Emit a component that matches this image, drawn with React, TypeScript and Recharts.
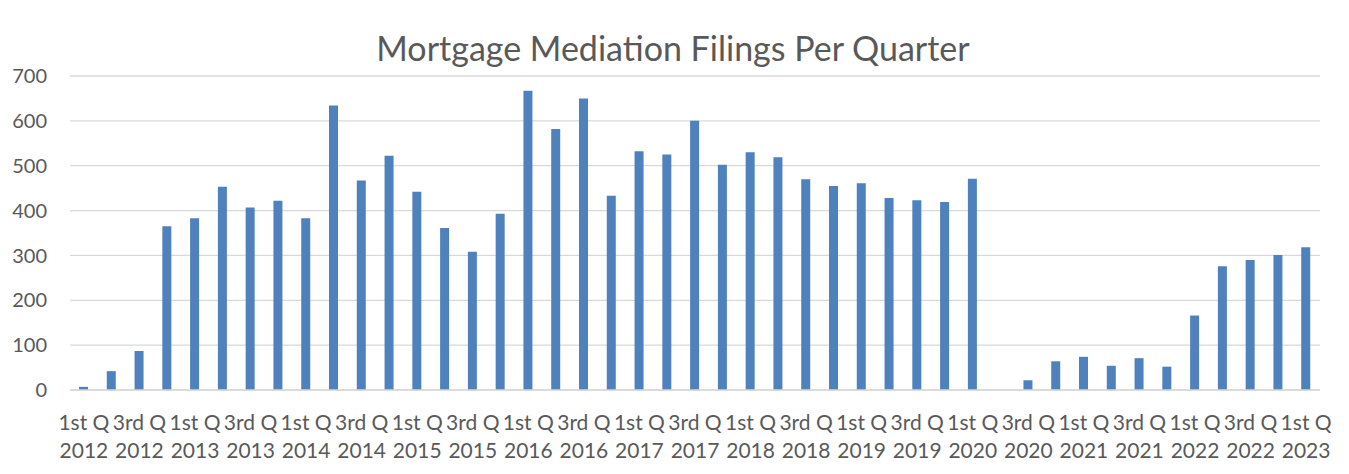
import { Bar, BarChart, CartesianGrid, XAxis, YAxis } from "recharts";

const quarters = [
  "1st Q 2012", "2nd Q 2012", "3rd Q 2012", "4th Q 2012",
  "1st Q 2013", "2nd Q 2013", "3rd Q 2013", "4th Q 2013",
  "1st Q 2014", "2nd Q 2014", "3rd Q 2014", "4th Q 2014",
  "1st Q 2015", "2nd Q 2015", "3rd Q 2015", "4th Q 2015",
  "1st Q 2016", "2nd Q 2016", "3rd Q 2016", "4th Q 2016",
  "1st Q 2017", "2nd Q 2017", "3rd Q 2017", "4th Q 2017",
  "1st Q 2018", "2nd Q 2018", "3rd Q 2018", "4th Q 2018",
  "1st Q 2019", "2nd Q 2019", "3rd Q 2019", "4th Q 2019",
  "1st Q 2020", "2nd Q 2020", "3rd Q 2020", "4th Q 2020",
  "1st Q 2021", "2nd Q 2021", "3rd Q 2021", "4th Q 2021",
  "1st Q 2022", "2nd Q 2022", "3rd Q 2022", "4th Q 2022",
  "1st Q 2023",
];

const filings = [
  7, 42, 87, 365,
  383, 453, 407, 422,
  383, 634, 467, 522,
  442, 361, 308, 393,
  667, 582, 650, 433,
  532, 525, 600, 502,
  530, 519, 470, 455,
  461, 428, 423, 419,
  471, 0, 22, 64,
  74, 54, 71, 52,
  166, 276, 290, 301,
  318,
];

const yTicks = [0, 100, 200, 300, 400, 500, 600, 700];

const data = quarters.map((q, i) => ({ quarter: q, filings: filings[i] }));

const TEXT = "#595959";
const GRID = "#d9d9d9";
const FONT = "Lato, 'Open Sans', sans-serif";

// Excel wraps "1st Q 2012" onto two lines under each labelled bar
function QuarterTick({ x, y, payload }: any) {
  const parts = String(payload.value).split(" ");
  const top = `${parts[0]} ${parts[1]}`;
  const bottom = parts[2];
  return (
    <g transform={`translate(${x},${y})`}>
      <text textAnchor="middle" fill={TEXT} fontSize={21} fontFamily={FONT}>
        <tspan x={0} y={32}>{top}</tspan>
        <tspan x={0} y={60}>{bottom}</tspan>
      </text>
    </g>
  );
}

export default function App() {
  return (
    <div
      style={{
        position: "relative",
        width: 1338,
        height: 470,
        border: `1px solid ${GRID}`,
        marginLeft: -1,
        marginTop: -1,
        background: "#fff",
      }}
    >
      <div
        style={{
          position: "absolute",
          left: -4,
          top: 20,
          width: 1338,
          textAlign: "center",
          fontFamily: FONT,
          fontSize: 34,
          color: TEXT,
          lineHeight: "40px",
        }}
      >
        Mortgage Mediation Filings Per Quarter
      </div>
      <BarChart
        width={1338}
        height={465}
        data={data}
        margin={{ top: 68, right: 26, left: 0, bottom: 0 }}
      >
        <CartesianGrid vertical={false} stroke={GRID} strokeWidth={1.3} />
        <XAxis
          dataKey="quarter"
          interval={1}
          height={83}
          tickLine={false}
          axisLine={{ stroke: GRID, strokeWidth: 1.3 }}
          tick={<QuarterTick />}
        />
        <YAxis
          width={62}
          domain={[0, 700]}
          ticks={yTicks}
          axisLine={false}
          tickLine={false}
          tickSize={0}
          tickMargin={23}
          tick={{ fill: TEXT, fontSize: 20, fontFamily: FONT }}
        />
        <Bar dataKey="filings" fill="#4F81BD" barSize={9} isAnimationActive={false} />
      </BarChart>
    </div>
  );
}
